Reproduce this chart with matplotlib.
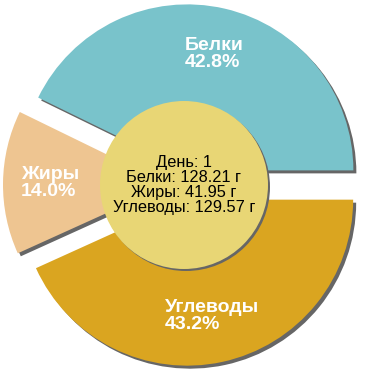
import numpy as np
import matplotlib
matplotlib.use("Agg")
import matplotlib.pyplot as plt
from matplotlib.patches import Circle

# nutrient data (grams, day 1)
names = ["Белки", "Жиры", "Углеводы"]
grams = [128.21, 41.95, 129.57]
colors = ["#79C3CB", "#EEC591", "#DAA520"]
day = 1

plt.rcParams['font.family'] = ['Liberation Sans', 'DejaVu Sans']

fig = plt.figure(figsize=(3.7, 3.7), dpi=100)
ax = fig.add_axes([0, 0, 1, 1])

cx, cy = 184, 185
R = 166
expl = [15, 15, 15]  # pie explode is in data units

# shadow pie, offset right/down
ax.pie(grams, radius=R, center=(cx + 3, cy - 3), explode=expl, startangle=0,
       colors=["#666666"] * 3, wedgeprops=dict(linewidth=0))
wedges, _ = ax.pie(grams, radius=R, center=(cx, cy), explode=expl, startangle=0,
                   colors=colors, wedgeprops=dict(linewidth=0))

ax.set_xlim(0, 370)
ax.set_ylim(0, 370)
ax.set_aspect('equal')
ax.axis('off')

# labels inside wedges
total = sum(grams)
for w, name, g in zip(wedges, names, grams):
    mid = np.deg2rad((w.theta1 + w.theta2) / 2)
    d = 134
    ax.text(cx + d * np.cos(mid), cy + d * np.sin(mid),
            f"{name}\n{g / total * 100:.1f}%", ha='center', va='center',
            multialignment='left', color='white', fontsize=14,
            fontweight='bold', linespacing=1.0)

# center circle with shadow
rc = 84
ax.add_patch(Circle((cx + 2, cy - 2), rc, color="#666666", lw=0))
ax.add_patch(Circle((cx, cy), rc, color="#E8D675", lw=0))

center_txt = (f"День: {day}\n{names[0]}: {grams[0]:.2f} г\n"
              f"{names[1]}: {grams[1]:.2f} г\n{names[2]}: {grams[2]:.2f} г")
ax.text(cx, cy, center_txt, ha='center', va='center', fontsize=11.8,
        color='black', linespacing=1.0)

fig.savefig("out.png", dpi=100)
